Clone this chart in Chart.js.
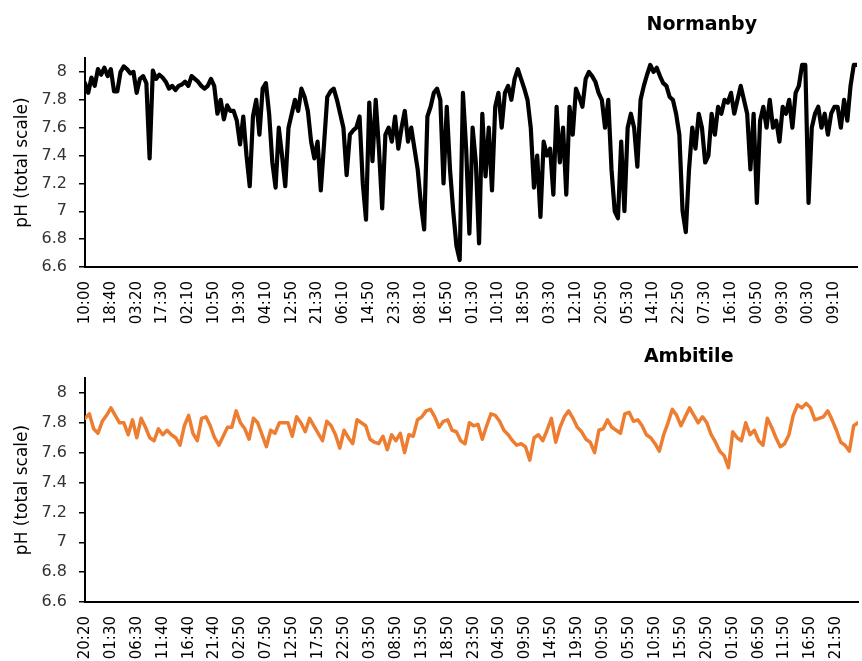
<!DOCTYPE html>
<html><head><meta charset="utf-8">
<script src="https://cdn.jsdelivr.net/npm/chart.js@4.4.1/dist/chart.umd.min.js"></script>
<style>
html,body{margin:0;padding:0;background:#fff;width:862px;height:661px;overflow:hidden}
.box{position:absolute;left:0;width:862px}
</style></head><body>
<div class="box" style="top:0;height:335px"><canvas id="c1" width="862" height="335"></canvas></div>
<div class="box" style="top:335px;height:326px"><canvas id="c2" width="862" height="326"></canvas></div>
<script>
const normanbyTickLabels = ['10:00','18:40','03:20','17:30','02:10','10:50','19:30','04:10','12:50','21:30','06:10','14:50','23:30','08:10','16:50','01:30','10:10','18:50','03:30','12:10','20:50','05:30','14:10','22:50','07:30','16:10','00:50','09:30','00:30','09:10'];
const normanbyLabelEvery = 8;
const normanbyPH = [
7.92,7.85,7.96,7.9,8.02,7.98,8.03,7.97,8.02,7.86,
7.86,8.0,8.04,8.02,7.99,8.0,7.85,7.95,7.97,7.92,
7.38,8.01,7.95,7.98,7.96,7.93,7.88,7.9,7.87,7.9,
7.91,7.93,7.9,7.97,7.95,7.93,7.9,7.88,7.9,7.95,
7.9,7.7,7.8,7.66,7.76,7.72,7.72,7.65,7.48,7.68,
7.4,7.18,7.68,7.8,7.55,7.88,7.92,7.7,7.35,7.17,
7.6,7.4,7.18,7.6,7.7,7.8,7.72,7.88,7.82,7.72,
7.5,7.38,7.5,7.15,7.48,7.82,7.86,7.88,7.8,7.7,
7.6,7.26,7.55,7.58,7.6,7.68,7.2,6.94,7.78,7.36,
7.8,7.45,7.02,7.55,7.6,7.5,7.68,7.45,7.6,7.72,
7.5,7.6,7.45,7.3,7.05,6.87,7.68,7.75,7.85,7.88,
7.8,7.2,7.75,7.3,7.0,6.75,6.65,7.85,7.45,6.84,
7.6,7.35,6.77,7.7,7.25,7.6,7.15,7.75,7.85,7.6,
7.85,7.9,7.8,7.95,8.02,7.95,7.88,7.8,7.6,7.17,
7.4,6.96,7.5,7.4,7.45,7.12,7.75,7.35,7.6,7.12,
7.75,7.55,7.88,7.82,7.75,7.95,8.0,7.97,7.93,7.85,
7.8,7.6,7.8,7.3,7.0,6.95,7.5,7.0,7.6,7.7,
7.6,7.32,7.8,7.9,7.98,8.05,8.0,8.03,7.97,7.92,
7.9,7.82,7.8,7.7,7.55,7.0,6.85,7.3,7.6,7.45,
7.7,7.6,7.35,7.4,7.7,7.55,7.75,7.7,7.8,7.78,
7.85,7.7,7.8,7.9,7.8,7.7,7.3,7.7,7.06,7.65,
7.75,7.6,7.8,7.6,7.65,7.5,7.75,7.7,7.8,7.6,
7.85,7.9,8.05,8.05,7.06,7.6,7.7,7.75,7.6,7.7,
7.55,7.7,7.75,7.75,7.6,7.8,7.65,7.9,8.05,8.05
];

const ambitileTickLabels = ['20:20','01:30','06:30','11:40','16:40','21:40','02:50','07:50','12:50','17:50','22:50','03:50','08:50','13:50','18:50','23:50','04:50','09:50','14:50','19:50','00:50','05:50','10:50','15:50','20:50','01:50','06:50','11:50','16:50','21:50'];
const ambitileLabelEvery = 6;
const ambitilePH = [
7.83,7.86,7.76,7.73,7.81,7.85,7.9,7.85,7.8,7.8,
7.72,7.82,7.7,7.83,7.77,7.7,7.68,7.76,7.72,7.75,
7.72,7.7,7.65,7.78,7.85,7.73,7.68,7.83,7.84,7.78,
7.7,7.65,7.71,7.77,7.77,7.88,7.8,7.76,7.69,7.83,
7.8,7.72,7.64,7.75,7.73,7.8,7.8,7.8,7.71,7.84,
7.8,7.74,7.83,7.78,7.73,7.68,7.81,7.78,7.72,7.63,
7.75,7.7,7.66,7.82,7.8,7.78,7.69,7.67,7.66,7.71,
7.62,7.72,7.68,7.73,7.6,7.72,7.71,7.82,7.84,7.88,
7.89,7.84,7.77,7.81,7.82,7.75,7.74,7.68,7.66,7.8,
7.78,7.79,7.69,7.78,7.86,7.85,7.81,7.75,7.72,7.68,
7.65,7.66,7.64,7.55,7.7,7.72,7.68,7.75,7.83,7.67,
7.77,7.84,7.88,7.83,7.77,7.74,7.69,7.67,7.6,7.75,
7.76,7.82,7.77,7.75,7.73,7.86,7.87,7.81,7.82,7.78,
7.72,7.7,7.66,7.61,7.72,7.8,7.89,7.85,7.78,7.84,
7.9,7.85,7.8,7.84,7.8,7.72,7.67,7.61,7.58,7.5,
7.74,7.7,7.68,7.8,7.72,7.75,7.68,7.65,7.83,7.77,
7.7,7.64,7.66,7.72,7.85,7.92,7.9,7.93,7.9,7.82,
7.83,7.84,7.88,7.82,7.75,7.67,7.65,7.61,7.78,7.8
];

const yTickValues = [6.6,6.8,7.0,7.2,7.4,7.6,7.8,8.0];
const yMin = 6.6, yMax = 8.1;
const yAxisTitle = 'pH (total scale)';

Chart.defaults.font.family = '"DejaVu Sans", sans-serif';

const panelTitle = {
  id: 'panelTitle',
  afterDraw(chart, args, opts) {
    const ctx = chart.ctx, a = chart.chartArea;
    ctx.save();
    ctx.font = 'bold 19px "DejaVu Sans", sans-serif';
    ctx.fillStyle = '#000';
    ctx.textAlign = 'center';
    ctx.textBaseline = 'middle';
    ctx.fillText(opts.text, a.left + opts.xFrac * (a.right - a.left), opts.y);
    ctx.restore();
  }
};

function makeChart(id, values, tickLabels, every, color, lw, cfg) {
  const pts = values.map((v, i) => ({x: i, y: v}));
  return new Chart(document.getElementById(id), {
    type: 'line',
    data: { datasets: [{ data: pts, borderColor: color, borderWidth: lw, pointRadius: 0,
      tension: 0, borderJoinStyle: 'round', borderCapStyle: 'round', fill: false }] },
    options: {
      responsive: false, animation: false, devicePixelRatio: 1,
      layout: { padding: { top: cfg.padTop, right: cfg.padRight, left: 0, bottom: 0 } },
      plugins: { legend: { display: false }, tooltip: { enabled: false },
        panelTitle: { text: cfg.title, xFrac: cfg.titleFrac, y: cfg.titleY } },
      scales: {
        x: {
          type: 'linear', min: 0, max: values.length - 1,
          grid: { display: false },
          border: { display: true, color: '#000', width: 2 },
          afterBuildTicks: s => { s.ticks = tickLabels.map((_, j) => ({ value: j * every })); },
          afterFit: s => { s.height = cfg.xHeight; },
          ticks: { autoSkip: false, maxRotation: 90, minRotation: 90, padding: 6,
            color: '#000', font: { size: 15 },
            callback: (v, i) => tickLabels[i] }
        },
        y: {
          min: yMin, max: yMax,
          grid: { display: true, drawOnChartArea: false, drawTicks: true, tickLength: 6, color: '#000', lineWidth: 1.5 },
          border: { display: true, color: '#000', width: 2 },
          afterBuildTicks: s => { s.ticks = yTickValues.map(v => ({ value: v })); },
          afterFit: s => { s.width = 85; },
          ticks: { padding: 12, color: '#333', font: { size: 16 },
            callback: v => String(Number(v.toFixed(1))) },
          title: { display: true, text: yAxisTitle, color: '#000', font: { size: 17 }, padding: { top: 12, bottom: 0 } }
        }
      }
    },
    plugins: [panelTitle]
  });
}

makeChart('c1', normanbyPH, normanbyTickLabels, normanbyLabelEvery, '#000000', 4.2,
  { padTop: 58, padRight: 5, xHeight: 68, title: 'Normanby', titleFrac: 0.799, titleY: 25 });
makeChart('c2', ambitilePH, ambitileTickLabels, ambitileLabelEvery, '#ED7D31', 3.5,
  { padTop: 43, padRight: 4, xHeight: 59, title: 'Ambitile', titleFrac: 0.781, titleY: 22 });
</script>
</body></html>
